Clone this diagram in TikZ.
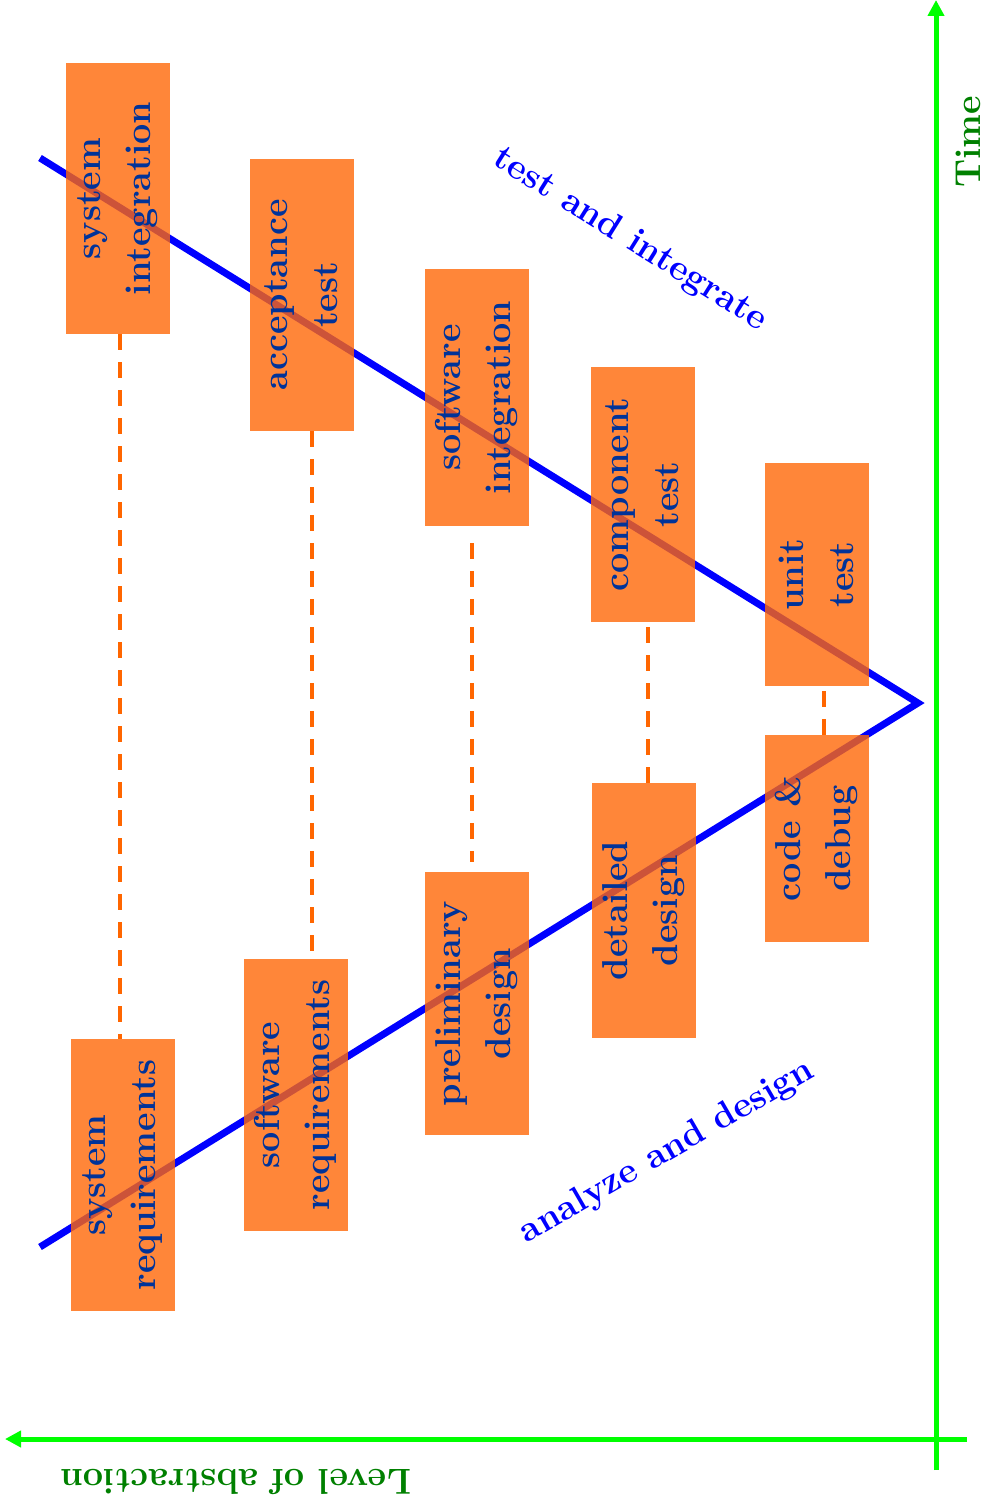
\documentclass[tikz,border=0pt]{standalone}
\usepackage{tikz}
\usetikzlibrary{arrows.meta,positioning}

\definecolor{axisgreen}{RGB}{0,255,0}
\definecolor{labelgreen}{RGB}{0,128,0}
\definecolor{vblue}{RGB}{0,0,255}
\definecolor{boxorange}{RGB}{255,104,8}
\definecolor{boxtext}{RGB}{0,51,153}
\definecolor{linkorange}{RGB}{255,102,0}

\begin{document}
\begin{tikzpicture}[x=1pt,y=-1pt,font=\fontsize{36}{50}\selectfont\bfseries]

        \useasboundingbox (0,0) rectangle (987,1509);

        \tikzstyle{phase}=[rotate=90,minimum height=104pt,inner sep=0pt,align=center,fill=boxorange,fill opacity=0.8,text opacity=1,text=boxtext]
        \tikzstyle{link}=[linkorange,line width=4pt,dash pattern=on 16pt off 12pt]
        \tikzstyle{axis}=[axisgreen,line width=5pt,-{Triangle[length=16pt,width=16pt]}]

        % axes
        \coordinate (t0) at (936,1470);
        \coordinate (t1) at (936,0);
        \coordinate (a0) at (967,1439);
        \coordinate (a1) at (5,1439);
        \draw[axis] (t0) -- (t1);
        \draw[axis] (a0) -- (a1);

        \node[text=labelgreen,rotate=90] (time) at (968,142) {Time};
        \node[text=labelgreen,rotate=180] (level) at (236,1482) {Level of abstraction};

        % the V
        \coordinate (vtop) at (40,158);
        \coordinate (vtip) at (918,703);
        \coordinate (vbot) at (40,1247);
        \draw[vblue,line width=7pt] (vtop) -- (vtip) -- (vbot);

        \node[text=vblue,rotate=-32] (test) at (630,240) {test and integrate};
        \node[text=vblue,rotate=30] (analyze) at (667,1152) {analyze and design};

        % phases
        \node[phase,minimum width=271pt] (sysint) at (118,198.5) {system\\integration};
        \node[phase,minimum width=272pt] (acc) at (301.5,295) {acceptance\\test};
        \node[phase,minimum width=257pt] (swint) at (476.5,397.5) {software\\integration};
        \node[phase,minimum width=255pt] (comp) at (642.5,494.5) {component\\test};
        \node[phase,minimum width=223pt] (unit) at (816.5,574.5) {unit\\test};

        \node[phase,minimum width=207pt] (code) at (816.5,838.5) {code \&\\debug};
        \node[phase,minimum width=255pt] (det) at (643.5,910.5) {detailed\\design};
        \node[phase,minimum width=263pt] (prel) at (476.5,1003.5) {preliminary\\design};
        \node[phase,minimum width=272pt] (swreq) at (295.5,1095) {software\\requirements};
        \node[phase,minimum width=272pt] (sysreq) at (123,1175) {system\\requirements};

        % dashed links
        \draw[link] ([xshift=2pt]sysint.west) -- ([xshift=2pt]sysint.west |- sysreq.east);
        \draw[link] ([xshift=10.5pt]acc.west) -- ([xshift=10.5pt]acc.west |- swreq.east);
        \draw[link,shorten <=17pt,shorten >=10pt] ([xshift=-4.5pt]swint.west) -- ([xshift=-4.5pt]swint.west |- prel.east);
        \draw[link,shorten <=5pt] ([xshift=5.5pt]comp.west) -- ([xshift=5.5pt]comp.west |- det.east);
        \draw[link,shorten <=5pt] ([xshift=7.5pt]unit.west) -- ([xshift=7.5pt]unit.west |- code.east);
      \end{tikzpicture}
\end{document}
